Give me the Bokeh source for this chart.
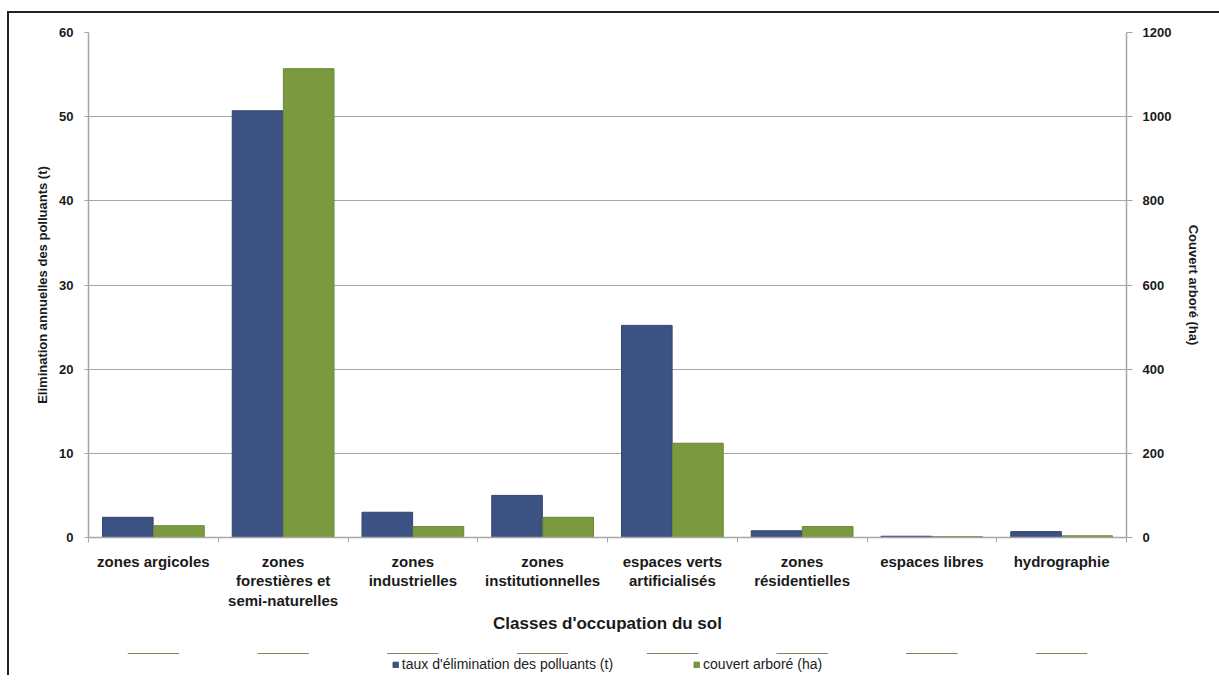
from bokeh.plotting import figure
from bokeh.layouts import column
from bokeh.models import (Range1d, LinearAxis, FixedTicker, Legend, LegendItem,
                          ColumnDataSource)
from bokeh.transform import dodge
from bokeh.embed import file_html
from bokeh.resources import INLINE

categories = ["zones argicoles", "zones\nforestières et\nsemi-naturelles", "zones\nindustrielles",
              "zones\ninstitutionnelles", "espaces verts\nartificialisés", "zones\nrésidentielles",
              "espaces libres", "hydrographie"]
elimination_t = [2.4, 50.7, 3.0, 5.0, 25.2, 0.8, 0.15, 0.7]
couvert_ha = [28, 1114, 26, 48, 224, 26, 2, 4]
left_ticks = [0, 10, 20, 30, 40, 50, 60]
right_ticks = [0, 200, 400, 600, 800, 1000, 1200]
legend_labels = ["taux d'élimination des polluants (t)", "couvert arboré (ha)"]

n = len(categories)
centers = [i + 0.5 for i in range(n)]
bounds = [float(i) for i in range(n + 1)]
src = ColumnDataSource(dict(x=centers, t=elimination_t, ha=couvert_ha))

FONT = "Liberation Sans"
GRID = "#a6a6a6"
TXT = "#1a1a1a"
blue = "#3b5282"
green = "#7b9a3f"

p = figure(width=1210, height=640, output_backend="svg", toolbar_location=None,
           x_range=Range1d(0, n), y_range=Range1d(0, 60),
           min_border_left=79, min_border_right=93, min_border_top=19, min_border_bottom=116)
p.extra_y_ranges = {"ha": Range1d(0, 1200)}
p.outline_line_color = None
p.xgrid.grid_line_color = None
p.ygrid.grid_line_color = GRID
p.ygrid.grid_line_width = 1.2

p.vbar(x=dodge("x", -0.197, range=p.x_range), top="t", width=0.39, source=src,
       fill_color=blue, line_color="#33476f", line_width=1)
p.vbar(x=dodge("x", 0.197, range=p.x_range), top="ha", width=0.39, source=src,
       y_range_name="ha", fill_color=green, line_color="#6a8635", line_width=1)

# x axis
xa = p.xaxis[0]
xa.ticker = FixedTicker(ticks=centers, minor_ticks=bounds)
xa.major_label_overrides = {c: lab for c, lab in zip(centers, categories)}
xa.major_tick_line_color = None
xa.minor_tick_line_color = GRID
xa.minor_tick_out = 5
xa.minor_tick_in = 0
xa.axis_line_color = GRID
xa.axis_line_width = 1.5
xa.major_label_text_font = FONT
xa.major_label_text_font_style = "bold"
xa.major_label_text_font_size = "15px"
xa.major_label_text_line_height = 1.15
xa.major_label_text_color = TXT
xa.major_label_standoff = 9
xa.axis_label = "Classes d'occupation du sol"
xa.axis_label_text_font = FONT
xa.axis_label_text_font_style = "bold"
xa.axis_label_text_font_size = "17px"
xa.axis_label_text_color = TXT
xa.axis_label_standoff = 2

# left axis
ya = p.yaxis[0]
ya.ticker = FixedTicker(ticks=left_ticks)
ya.axis_line_color = GRID
ya.axis_line_width = 1.5
ya.major_tick_line_color = GRID
ya.major_tick_out = 4
ya.major_tick_in = 0
ya.minor_tick_line_color = None
ya.major_label_text_font = FONT
ya.major_label_text_font_style = "bold"
ya.major_label_text_font_size = "13px"
ya.major_label_text_color = TXT
ya.major_label_standoff = 11
ya.axis_label = "Elimination annuelles des polluants (t)"
ya.axis_label_text_font = FONT
ya.axis_label_text_font_style = "bold"
ya.axis_label_text_font_size = "13px"
ya.axis_label_text_color = TXT
ya.axis_label_standoff = 6

# right axis
ra = LinearAxis(y_range_name="ha", ticker=FixedTicker(ticks=right_ticks))
ra.axis_line_color = GRID
ra.axis_line_width = 1.5
ra.major_tick_line_color = GRID
ra.major_tick_out = 6
ra.major_tick_in = 0
ra.minor_tick_line_color = None
ra.major_label_text_font = FONT
ra.major_label_text_font_style = "bold"
ra.major_label_text_font_size = "13px"
ra.major_label_text_color = TXT
ra.major_label_standoff = 10
ra.axis_label = "Couvert arboré (ha)"
ra.axis_label_text_font = FONT
ra.axis_label_text_font_style = "bold"
ra.axis_label_text_font_size = "13px"
ra.axis_label_text_color = TXT
ra.axis_label_standoff = 12
p.add_layout(ra, "right")

# legend strip below the chart (same data source; the bars fall outside its range)
pl = figure(width=1210, height=22, output_backend="svg", toolbar_location=None,
            x_range=Range1d(0, n), y_range=Range1d(-2, -1),
            x_axis_location=None, y_axis_location=None, min_border=0)
pl.outline_line_color = None
pl.xgrid.grid_line_color = None
pl.ygrid.grid_line_color = None
lb = pl.vbar(x="x", top="t", width=0.39, source=src, fill_color=blue, line_color="#33476f")
lg = pl.vbar(x="x", top="ha", width=0.39, source=src, fill_color=green, line_color="#6a8635")
legend = Legend(items=[LegendItem(label=legend_labels[0], renderers=[lb]),
                       LegendItem(label=legend_labels[1], renderers=[lg])],
                orientation="horizontal", location="center",
                label_text_font=FONT, label_text_font_size="14px", label_text_color="#222222",
                glyph_width=7, glyph_height=7, label_standoff=3, spacing=80,
                border_line_color=None, background_fill_alpha=0, margin=0, padding=0)
pl.add_layout(legend, "center")

layout = column(p, pl, spacing=0,
                styles={"border-left": "2px solid #222", "border-top": "2px solid #222",
                        "margin-left": "7px", "margin-top": "11px"})

open("out.html", "w").write(file_html(layout, INLINE))
